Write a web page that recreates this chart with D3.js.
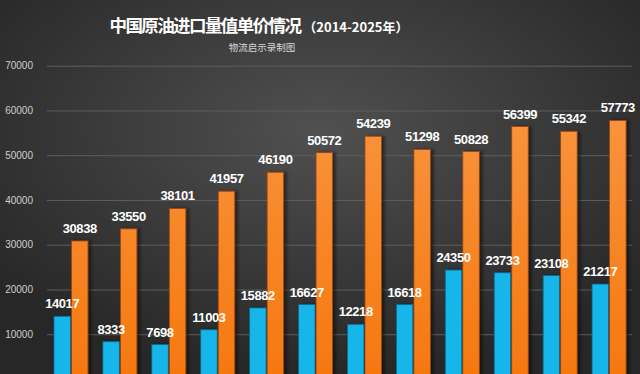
<!DOCTYPE html>
<html>
<head>
<meta charset="utf-8">
<script src="https://cdn.jsdelivr.net/npm/d3@7"></script>
<style>
  html, body { margin: 0; padding: 0; background: #2a2a2a; }
  svg { display: block; }
</style>
</head>
<body>
<div id="chart"></div>
<script>
// data
const years = ["2014", "2015", "2016", "2017", "2018", "2019", "2020", "2021", "2022", "2023", "2024", "2025"]
const importValue = [14017, 8333, 7698, 11003, 15882, 16627, 12218, 16618, 24350, 23733, 23108, 21217]
const unitPrice = [30838, 33550, 38101, 41957, 46190, 50572, 54239, 51298, 50828, 56399, 55342, 57773]
const yTicks = [10000, 20000, 30000, 40000, 50000, 60000, 70000]

const width = 640, height = 374

const svg = d3.select("#chart").append("svg")
  .attr("width", width)
  .attr("height", height)

const defs = svg.append("defs")

const bg = defs.append("radialGradient")
  .attr("id", "bg")
  .attr("cx", "50%").attr("cy", "35%").attr("r", "65%")
bg.append("stop").attr("offset", "0%").attr("stop-color", "#505050")
bg.append("stop").attr("offset", "100%").attr("stop-color", "#272727")

const orangeGrad = defs.append("linearGradient")
  .attr("id", "orange")
  .attr("gradientUnits", "userSpaceOnUse")
  .attr("x1", 0).attr("y1", 100).attr("x2", 0).attr("y2", 374)
orangeGrad.append("stop").attr("offset", "0%").attr("stop-color", "#f8953f")
orangeGrad.append("stop").attr("offset", "100%").attr("stop-color", "#f67810")

const shadow = defs.append("filter")
  .attr("id", "shadow")
  .attr("x", "-20%").attr("y", "-10%").attr("width", "160%").attr("height", "130%")
shadow.append("feDropShadow")
  .attr("dx", 3).attr("dy", 0).attr("stdDeviation", 1.5)
  .attr("flood-color", "#000").attr("flood-opacity", 0.45)

svg.append("rect")
  .attr("width", width).attr("height", height)
  .attr("fill", "url(#bg)")

const y = d3.scaleLinear()
  .domain([0, 70000])
  .range([379, 65.7])

const x = d3.scaleBand()
  .domain(years)
  .range([46.5, 633.5])

const inner = d3.scaleBand()
  .domain(["value", "price"])
  .range([x.bandwidth() / 2 - 17, x.bandwidth() / 2 + 17])
  .paddingInner(0.06)

// gridlines + tick labels
const yAxis = d3.axisLeft(y)
  .tickValues(yTicks)
  .tickSize(-(632 - 47))
  .tickFormat(d3.format("d"))

const gAxis = svg.append("g")
  .attr("transform", "translate(47,0)")
  .call(yAxis)
gAxis.select(".domain").remove()
gAxis.selectAll(".tick line")
  .attr("stroke", "#5e5e5e")
  .attr("stroke-width", 1)
gAxis.selectAll(".tick text")
  .attr("x", -14)
  .attr("fill", "#cfcfcf")
  .attr("font-family", "'Liberation Sans', Arial, sans-serif")
  .attr("font-size", 10)

// bars
const groups = svg.selectAll(".year")
  .data(years)
  .join("g")
  .attr("class", "year")
  .attr("transform", d => `translate(${x(d)},0)`)

groups.append("rect")
  .attr("x", inner("value"))
  .attr("y", (d, i) => y(importValue[i]))
  .attr("width", inner.bandwidth())
  .attr("height", (d, i) => y(0) - y(importValue[i]))
  .attr("fill", "#17b5ea")
  .attr("stroke", "#0c6688")
  .attr("stroke-width", 0.8)
  .attr("filter", "url(#shadow)")

groups.append("rect")
  .attr("x", inner("price"))
  .attr("y", (d, i) => y(unitPrice[i]))
  .attr("width", inner.bandwidth())
  .attr("height", (d, i) => y(0) - y(unitPrice[i]))
  .attr("fill", "url(#orange)")
  .attr("stroke", "#9a4512")
  .attr("stroke-width", 0.8)
  .attr("filter", "url(#shadow)")

const labelFont = "'Liberation Sans', Arial, sans-serif"

groups.append("text")
  .attr("x", inner("value") + inner.bandwidth() / 2)
  .attr("y", (d, i) => y(importValue[i]) - 8)
  .attr("text-anchor", "middle")
  .attr("fill", "#ffffff")
  .attr("font-family", labelFont)
  .attr("font-weight", "bold")
  .attr("font-size", 13)
  .attr("letter-spacing", -0.4)
  .text((d, i) => importValue[i])

groups.append("text")
  .attr("x", inner("price") + inner.bandwidth() / 2)
  .attr("y", (d, i) => y(unitPrice[i]) - 8)
  .attr("text-anchor", "middle")
  .attr("fill", "#ffffff")
  .attr("font-family", labelFont)
  .attr("font-weight", "bold")
  .attr("font-size", 13)
  .attr("letter-spacing", -0.4)
  .text((d, i) => unitPrice[i])

// title
const title = svg.append("text")
  .attr("x", 259)
  .attr("y", 32)
  .attr("text-anchor", "middle")
  .attr("fill", "#ffffff")
  .attr("font-family", "'Noto Sans CJK SC', sans-serif")
  .attr("font-weight", "bold")
title.append("tspan")
  .attr("font-size", 17.5)
  .attr("letter-spacing", -1.6)
  .text("中国原油进口量值单价情况")
title.append("tspan")
  .attr("font-size", 13)
  .attr("dx", 3)
  .text("（2014-2025年）")

svg.append("text")
  .attr("x", 262)
  .attr("y", 51)
  .attr("text-anchor", "middle")
  .attr("fill", "#d8d8d8")
  .attr("font-family", "'Noto Sans CJK SC', sans-serif")
  .attr("font-size", 9.5)
  .text("物流启示录制图")
</script>
</body>
</html>
